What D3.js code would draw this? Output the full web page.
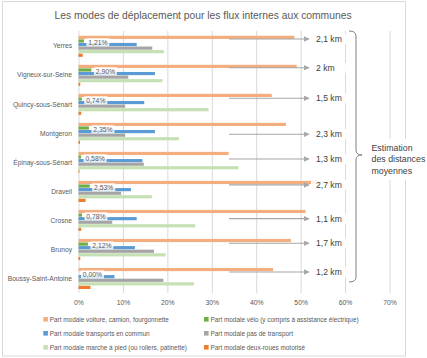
<!DOCTYPE html>
<html><head><meta charset="utf-8">
<script src="https://cdn.jsdelivr.net/npm/d3@7"></script>
<style>body{margin:0;background:#fff}svg{display:block}text{font-family:"Liberation Sans",Arial,sans-serif}</style>
</head><body><div id="chart"></div>
<script>
const categories = ["Yerres","Vigneux-sur-Seine","Quincy-sous-Sénart","Montgeron","Épinay-sous-Sénart","Draveil","Crosne","Brunoy","Boussy-Saint-Antoine"];
const voiture      = [48.6, 49.1, 43.5, 46.7, 33.8, 57.8, 51.1, 47.8, 43.8];
const velo         = [1.21, 2.90, 0.74, 2.35, 0.58, 2.53, 0.78, 2.12, 0.00];
const transports   = [13.1, 17.2, 14.8, 17.2, 14.4, 11.8, 13.1, 12.7, 8.1];
const pasTransport = [16.6, 11.2, 10.5, 10.5, 14.7, 9.6, 7.6, 17.0, 19.1];
const marche       = [19.2, 18.9, 29.3, 22.6, 36.0, 16.5, 26.3, 19.6, 26.0];
const deuxRoues    = [0.95, 0.4, 0.6, 0.35, 0.2, 1.6, 0.6, 0.4, 2.7];
const distances    = ["2,1 km","2 km","1,5 km","2,3 km","1,3 km","2,7 km","1,1 km","1,7 km","1,2 km"];
const seriesNames  = ["Part modale voiture, camion, fourgonnette","Part modale vélo (y compris à assistance électrique)","Part modale transports en commun","Part modale pas de transport","Part modale marche à pied (ou rollers, patinette)","Part modale deux-roues motorisé"];
const tickValues   = [0,10,20,30,40,50,60,70];
const tickLabels   = ["0%","10%","20%","30%","40%","50%","60%","70%"];
const title = "Les modes de déplacement pour les flux internes aux communes";
const bracketText = ["Estimation","des distances","moyennes"];

const colors = ["#F4AD7E","#70AD47","#5B9BD5","#A5A5A5","#C5E0B4","#ED7D31"];
const seriesValues = [voiture, velo, transports, pasTransport, marche, deuxRoues];
const arrowOffsets = [-7.3,-7.6,-6.1,0.9,-3.4,-6.5,-1.8,-6.2,-6.5];

const W=427,H=358;
const svg=d3.select("#chart").append("svg").attr("width",W).attr("height",H);
svg.append("rect").attr("x",2.5).attr("y",1.5).attr("width",403).attr("height",354.5).attr("fill","#fff").attr("stroke","#D9D9D9");

const x=d3.scaleLinear().domain([0,70]).range([78.5,389.5]);
const y=d3.scaleBand().domain(categories).range([31.8,293]).paddingInner(0.26).paddingOuter(0.13);
const ys=d3.scaleBand().domain(d3.range(6)).range([0,y.bandwidth()]);

svg.append("text").attr("x",203).attr("y",18.5).attr("text-anchor","middle").attr("font-size",10.3).attr("fill","#595959").text(title);

// gridlines
svg.append("g").selectAll("line").data(tickValues).join("line")
 .attr("x1",d=>x(d)+0.5).attr("x2",d=>x(d)+0.5).attr("y1",31).attr("y2",293)
 .attr("stroke","#D9D9D9").attr("stroke-width",1);

// x axis labels
const xa=svg.append("g").attr("transform","translate(0,293)")
 .call(d3.axisBottom(x).tickValues(tickValues).tickFormat((d,i)=>tickLabels[i]).tickSize(0).tickPadding(7));
xa.select(".domain").remove();
xa.selectAll("text").attr("font-size",6.8).attr("fill","#595959").attr("font-family","Liberation Sans, Arial, sans-serif");

// y axis labels
const ya=svg.append("g").attr("transform","translate(78.5,0)")
 .call(d3.axisLeft(y).tickSize(0).tickPadding(6.5));
ya.select(".domain").remove();
ya.selectAll("text").attr("font-size",6.7).attr("fill","#595959").attr("font-family","Liberation Sans, Arial, sans-serif");

// bars
const groups=svg.append("g").selectAll("g").data(categories).join("g")
 .attr("transform",d=>`translate(0,${y(d)})`);
groups.each(function(c,ci){
  d3.select(this).selectAll("rect").data(seriesValues.map((s,si)=>({si,v:s[ci]}))).join("rect")
   .attr("x",x(0)).attr("y",d=>ys(d.si)+0.2).attr("height",ys.bandwidth()-0.4)
   .attr("width",d=>x(d.v)-x(0)).attr("fill",d=>colors[d.si]);
});

// velo labels
const fmt=v=>d3.format(".2f")(v).replace(".",",")+"%";
const lab=svg.append("g").selectAll("g").data(categories).join("g")
 .attr("transform",(d,i)=>`translate(${x(velo[i])+2.5},${y(d)+ys(1)+ys.bandwidth()/2+1.2})`);
lab.append("rect").attr("x",0).attr("y",-4).attr("width",23).attr("height",8).attr("fill","#fff").attr("opacity",0.82);
lab.append("text").attr("x",11.5).attr("y",0).attr("dy","0.35em").attr("text-anchor","middle")
 .attr("font-size",6.8).attr("fill","#595959").text((d,i)=>fmt(velo[i]));

// arrows & distance labels
const defs=svg.append("defs");
defs.append("marker").attr("id","ah").attr("viewBox","0 0 10 10").attr("refX",9).attr("refY",5)
 .attr("markerWidth",5).attr("markerHeight",5).attr("orient","auto")
 .append("path").attr("d","M0,0L10,5L0,10z").attr("fill","#A6A6A6");
const ann=svg.append("g").selectAll("g").data(categories).join("g")
 .attr("transform",(d,i)=>`translate(0,${y(d)+y.bandwidth()/2+arrowOffsets[i]})`);
ann.append("rect").attr("x",311).attr("y",-5).attr("width",36).attr("height",10).attr("fill","#fff").attr("opacity",0.9);
ann.append("line").attr("x1",229).attr("x2",309).attr("y1",0).attr("y2",0)
 .attr("stroke","#A6A6A6").attr("stroke-width",1.1).attr("marker-end","url(#ah)");
ann.append("text").attr("x",316).attr("y",0).attr("dy","0.35em").attr("font-size",8.6).attr("fill","#404040")
 .text((d,i)=>distances[i]);

// bracket
svg.append("path").attr("d","M349,31 Q356,31 356,36 L356,150 Q356,155 362,155 Q356,155 356,160 L356,277 Q356,282 349,282")
 .attr("fill","none").attr("stroke","#7F7F7F").attr("stroke-width",1);
svg.append("rect").attr("x",367).attr("y",139).attr("width",60).attr("height",41).attr("fill","#fff");
svg.append("g").selectAll("text").data(bracketText).join("text")
 .attr("x",371.5).attr("y",(d,i)=>150.5+i*11.6).attr("font-size",8.8).attr("fill","#404040").text(d=>d);

// legend
const lg=svg.append("g").selectAll("g").data(seriesNames).join("g")
 .attr("transform",(d,i)=>`translate(${i%2===0?43.3:204},${319.3+Math.floor(i/2)*14})`);
lg.append("rect").attr("x",0).attr("y",-2.3).attr("width",4.6).attr("height",4.6).attr("fill",(d,i)=>colors[i]);
lg.append("text").attr("x",6.5).attr("y",0).attr("dy","0.35em").attr("font-size",6.4).attr("fill","#595959").text(d=>d);
</script></body></html>
